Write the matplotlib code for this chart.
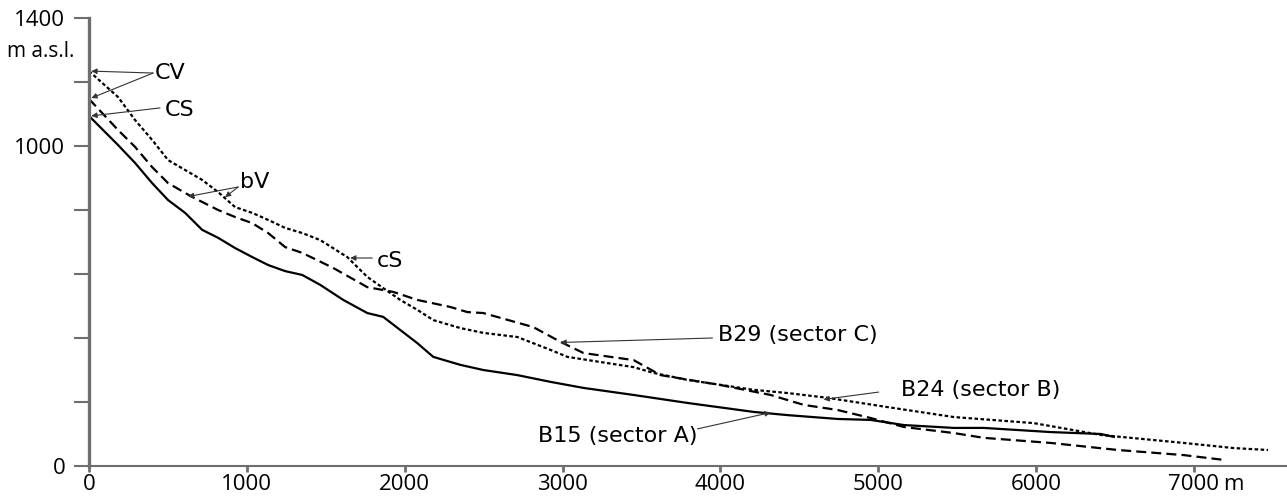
import matplotlib
matplotlib.use("Agg")
import matplotlib.pyplot as plt

# ---- data (distance in m, elevation in m a.s.l.) ----
b15_x = [0, 184, 292, 400, 501, 609, 717, 818, 926, 1034, 1135, 1243, 1351, 1465, 1611, 1763,
         1864, 1972, 2080, 2181, 2353, 2498, 2714, 2923, 3133, 3450, 3792, 4211, 4426, 4743,
         4952, 5162, 5479, 5669, 6094, 6411, 6493]
b15_y = [1094, 1003, 947, 884, 831, 791, 738, 713, 681, 653, 628, 609, 597, 566, 519, 478,
         466, 425, 384, 341, 316, 300, 284, 263, 244, 222, 197, 169, 159, 147,
         144, 128, 119, 119, 106, 100, 91]

b29_x = [0, 184, 292, 400, 501, 653, 818, 926, 1034, 1135, 1243, 1351, 1547, 1763, 1928, 2080,
         2289, 2397, 2498, 2606, 2815, 2987, 3133, 3348, 3450, 3621, 4001, 4318, 4528, 4743,
         4952, 5162, 5479, 5669, 6094, 6519, 6937, 7191]
b29_y = [1147, 1050, 997, 934, 884, 841, 800, 778, 759, 728, 684, 666, 619, 559, 544, 519,
         497, 481, 478, 463, 434, 388, 353, 338, 331, 284, 253, 222, 191, 175,
         150, 122, 103, 88, 72, 50, 34, 19]

b24_x = [0, 184, 292, 400, 501, 609, 717, 818, 926, 1034, 1135, 1243, 1351, 1465, 1636, 1763,
         1864, 1972, 2080, 2181, 2353, 2498, 2714, 2923, 3031, 3240, 3450, 3576, 3792, 4211,
         4426, 4680, 5060, 5479, 5986, 6411, 6937, 7254, 7470]
b24_y = [1234, 1153, 1081, 1019, 956, 925, 894, 856, 809, 791, 769, 744, 728, 706, 653, 591,
         556, 519, 488, 456, 431, 416, 403, 363, 341, 325, 309, 291, 269, 238,
         228, 213, 184, 153, 134, 97, 72, 56, 50]

y_ticks = [0, 200, 400, 600, 800, 1000, 1200, 1400]
y_ticklabels = ["0", "", "", "", "", "1000", "", "1400"]
x_ticks = [0, 1000, 2000, 3000, 4000, 5000, 6000, 7000]
x_ticklabels = ["0", "1000", "2000", "3000", "4000", "5000", "6000", "7000"]

# annotations: (text, text_x, text_y, ha, [(tail_x, tail_y, head_x, head_y), ...])
annotations = [
    ("CV", 418, 1228, "left", [(406, 1228, 15, 1234), (406, 1228, 15, 1150)]),
    ("CS", 482, 1112, "left", [(450, 1119, 15, 1094)]),
    ("bV", 957, 888, "left", [(945, 872, 628, 842), (945, 872, 862, 840)]),
    ("cS", 1826, 641, "left", [(1795, 650, 1655, 650)]),
    ("B29 (sector C)", 3982, 409, "left", [(3950, 400, 2987, 386)]),
    ("B24 (sector B)", 5143, 237, "left", [(5003, 231, 4654, 208)]),
    ("B15 (sector A)", 3855, 94, "right", [(3855, 116, 4318, 167)]),
]

tick_font = "Open Sans"

fig = plt.figure(figsize=(12.87, 4.97), dpi=100)
ax = fig.add_axes([89 / 1287, 31 / 497, 1 - 89 / 1287, (466 - 18) / 497])

ax.plot(b15_x, b15_y, color="black", lw=1.6, linestyle="-", solid_joinstyle="round")
ax.plot(b29_x, b29_y, color="black", lw=1.6, linestyle=(0, (4.5, 2.3)))
ax.plot(b24_x, b24_y, color="black", lw=1.6, linestyle=(0, (1.6, 1.1)))

ax.set_xlim(0, 7590)
ax.set_ylim(0, 1400)

for s in ["top", "right"]:
    ax.spines[s].set_visible(False)
ax.spines["left"].set_color("#6e6e6e")
ax.spines["left"].set_linewidth(2.4)
ax.spines["bottom"].set_color("#6e6e6e")
ax.spines["bottom"].set_linewidth(1.5)

ax.set_yticks(y_ticks)
ax.set_yticklabels(y_ticklabels)
ax.set_xticks(x_ticks)
ax.set_xticklabels(x_ticklabels)
ax.tick_params(axis="y", direction="out", length=11, width=1.5, color="#6e6e6e",
               labelsize=16, pad=6)
ax.tick_params(axis="x", direction="out", length=4, width=2, color="#6e6e6e",
               labelsize=16, pad=2)
for lab in ax.get_xticklabels() + ax.get_yticklabels():
    lab.set_fontfamily(tick_font)

ax.text(-82 / 1198, 0.925, "m a.s.l.", transform=ax.transAxes, fontsize=15,
        family=tick_font, ha="left", va="center")
ax.annotate("m", xy=(7000, 0), xytext=(29, -8), textcoords="offset pixels",
            fontsize=16, family=tick_font, ha="left", va="top")

for text, tx, ty, ha, arrows in annotations:
    ax.text(tx, ty, text, fontsize=16, family="DejaVu Sans", ha=ha, va="center")
    for (x0, y0, x1, y1) in arrows:
        ax.annotate("", xy=(x1, y1), xytext=(x0, y0),
                    arrowprops=dict(arrowstyle="-|>", color="#333333", lw=0.8,
                                    mutation_scale=8, shrinkA=0, shrinkB=0))

fig.savefig("out.png", dpi=100)
